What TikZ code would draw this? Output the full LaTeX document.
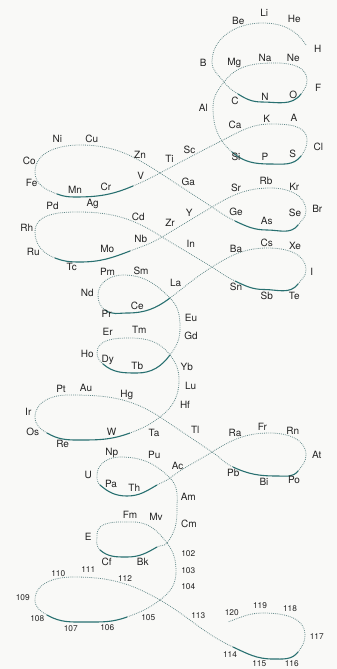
\documentclass[tikz,border=0pt]{standalone}
\usepackage{fontspec}
\setmainfont{TeX Gyre Heros}
\definecolor{dotc}{RGB}{100,138,138}
\definecolor{solc}{RGB}{40,112,112}
\definecolor{txt}{RGB}{35,35,35}
\definecolor{bg}{RGB}{249,249,247}
\begin{document}
\begin{tikzpicture}[x=1pt,y=1pt,
  dotl/.style={draw=dotc,line width=0.8pt,dash pattern=on 0.8pt off 1.1pt},
  sol/.style={draw=solc,line width=1.1pt},
  lab/.style={text=txt,font=\fontsize{10}{11}\selectfont,inner sep=0pt},
  num/.style={text=txt,font=\fontsize{8.3}{9}\selectfont,inner sep=0pt}]
\fill[bg] (0,0) rectangle (337,-669);
\useasboundingbox (0,0) rectangle (337,-669);
% ---- curve ----
\path[dotl] (306,-45) to[out=123,in=0] (262,-23) to[out=180,in=90] (212,-62) to[out=270,in=127] (224,-82) to[out=-53,in=148] (238,-94);
\path[sol] (238,-94) to[out=-32,in=180] (262,-102) to[out=0,in=233] (301,-94);
\path[dotl] (301,-94) to[out=53,in=270] (307,-80) to[out=90,in=0] (277,-63) to[out=180,in=53] (224,-82) to[out=233,in=90] (213,-107) to[out=270,in=139] (232,-152);
\path[sol] (232,-152) to[out=-41,in=180] (270,-164) to[out=0,in=233] (301,-156);
\path[dotl] (301,-156) to[out=53,in=270] (307,-140) to[out=90,in=0] (271,-124) to[out=180,in=27] (225,-139) to[out=207,in=28] (160,-173) to[out=208,in=23] (133,-186);
\path[sol] (133,-186) to[out=203,in=0] (75,-197) to[out=180,in=340] (57,-194);
\path[dotl] (57,-194) to[out=160,in=270] (35,-172) to[out=90,in=180] (80,-145) to[out=0,in=147] (160,-173) -- (212,-207) to[out=-33,in=155] (235,-221);
\path[sol] (235,-221) to[out=-25,in=180] (267,-230) to[out=0,in=233] (298,-225);
\path[dotl] (298,-225) to[out=53,in=270] (306,-211) to[out=90,in=0] (271,-188) to[out=180,in=31] (212,-207) -- (162,-237) to[out=211,in=21] (130,-251);
\path[sol] (130,-251) to[out=201,in=0] (80,-262) to[out=180,in=339] (55,-258);
\path[dotl] (55,-258) to[out=159,in=270] (35,-232) to[out=90,in=180] (78,-212) to[out=0,in=147] (162,-237) -- (212,-267) to[out=-33,in=155] (235,-281);
\path[sol] (235,-281) to[out=-25,in=180] (264,-289.5) to[out=0,in=233] (298,-284);
\path[dotl] (298,-284) to[out=53,in=270] (306,-270) to[out=90,in=0] (268,-248) to[out=180,in=32] (212,-267) to[out=212,in=37] (170,-298);
\path[sol] (170,-298) to[out=217,in=0] (127,-313) to[out=180,in=323] (105,-310);
\path[dotl] (105,-310) to[out=143,in=270] (98,-295) to[out=90,in=180] (123,-275) to[out=0,in=135] (170,-298) to[out=-45,in=90] (180,-328) to[out=270,in=53] (170,-355);
\path[sol] (170,-355) to[out=233,in=0] (137,-373) to[out=180,in=319] (103,-364);
\path[dotl] (103,-364) to[out=139,in=270] (97,-353) to[out=90,in=180] (130,-338) to[out=0,in=127] (170,-355) to[out=-53,in=90] (179,-380) to[out=270,in=37] (160,-417) to[out=217,in=20] (130,-433);
\path[sol] (130,-433) to[out=200,in=0] (77,-440) to[out=180,in=330] (47,-433);
\path[dotl] (47,-433) to[out=150,in=270] (35,-417) to[out=90,in=180] (67,-395) to[out=0,in=147] (160,-417) -- (212,-452) to[out=-33,in=155] (233,-467);
\path[sol] (233,-467) to[out=-25,in=180] (277,-476) to[out=0,in=233] (298,-471);
\path[dotl] (298,-471) to[out=53,in=270] (306,-455) to[out=90,in=0] (270,-433) to[out=180,in=32] (212,-452) to[out=212,in=37] (170,-478) to[out=217,in=30] (157,-485);
\path[sol] (157,-485) to[out=210,in=0] (127,-496) to[out=180,in=319] (100,-485);
\path[dotl] (100,-485) to[out=139,in=270] (97,-475) to[out=90,in=180] (120,-457) to[out=0,in=135] (170,-478) to[out=-45,in=90] (177,-510) to[out=270,in=53] (167,-543) to[out=233,in=30] (157,-547);
\path[sol] (157,-547) to[out=210,in=0] (127,-557) to[out=180,in=319] (100,-550);
\path[dotl] (100,-550) to[out=139,in=270] (97,-535) to[out=90,in=180] (133,-522) to[out=0,in=127] (167,-543) to[out=-53,in=90] (176,-572) to[out=270,in=37] (160,-600) to[out=217,in=20] (127,-617);
\path[sol] (127,-617) to[out=200,in=0] (87,-622) to[out=180,in=330] (47,-615);
\path[dotl] (47,-615) to[out=150,in=270] (35,-600) to[out=90,in=180] (73,-577) to[out=0,in=150] (160,-600) to[out=-30,in=155] (233,-647);
\path[sol] (233,-647) to[out=-25,in=180] (273,-659) to[out=0,in=233] (298,-652);
\path[dotl] (298,-652) to[out=53,in=270] (305,-635) to[out=90,in=0] (263,-613) to[out=180,in=20] (228,-622);
% ---- labels ----
\node[lab] (H)  at (317.7,-49) {H};
\node[lab] (He) at (294.3,-19.3) {He};
\node[lab] (Li) at (264.3,-13.3) {Li};
\node[lab] (Be) at (238.3,-20.7) {Be};
\node[lab] (B)  at (203.3,-62.7) {B};
\node[lab] (C)  at (235,-100.7) {C};
\node[lab] (N)  at (265,-96.7) {N};
\node[lab] (O)  at (293.3,-95) {O};
\node[lab] (F)  at (318.3,-88.3) {F};
\node[lab] (Ne) at (293.3,-58.3) {Ne};
\node[lab] (Na) at (265,-58.3) {Na};
\node[lab] (Mg) at (234.3,-63.3) {Mg};
\node[lab] (Al) at (203.3,-108.3) {Al};
\node[lab] (Si) at (236,-156.7) {Si};
\node[lab] (P)  at (265,-156.7) {P};
\node[lab] (S)  at (292.7,-154.3) {S};
\node[lab] (Cl) at (318.3,-146.7) {Cl};
\node[lab] (A)  at (294,-118.3) {A};
\node[lab] (K)  at (266.7,-119) {K};
\node[lab] (Ca) at (235,-125) {Ca};
\node[lab] (Sc) at (189.5,-149.5) {Sc};
\node[lab] (Ti) at (169.5,-159) {Ti};
\node[lab] (V)  at (140.7,-176) {V};
\node[lab] (Cr) at (106,-187.3) {Cr};
\node[lab] (Mn) at (75,-190) {Mn};
\node[lab] (Fe) at (31.7,-183.3) {Fe};
\node[lab] (Co) at (29.3,-161) {Co};
\node[lab] (Ni) at (57.3,-139.3) {Ni};
\node[lab] (Cu) at (91.7,-139.3) {Cu};
\node[lab] (Zn) at (140,-155) {Zn};
\node[lab] (Ga) at (188.3,-181.7) {Ga};
\node[lab] (Ge) at (236,-212.3) {Ge};
\node[lab] (As) at (266.7,-220.7) {As};
\node[lab] (Se) at (295,-213.3) {Se};
\node[lab] (Br) at (317.3,-209.3) {Br};
\node[lab] (Kr) at (294.3,-187.3) {Kr};
\node[lab] (Rb) at (266,-180.7) {Rb};
\node[lab] (Sr) at (236,-188.3) {Sr};
\node[lab] (Y)  at (189.3,-212.7) {Y};
\node[lab] (Zr) at (170,-222.7) {Zr};
\node[lab] (Nb) at (140.7,-239.3) {Nb};
\node[lab] (Mo) at (107.3,-249.3) {Mo};
\node[lab] (Tc) at (71.7,-266.7) {Tc};
\node[lab] (Ru) at (33.3,-251.7) {Ru};
\node[lab] (Rh) at (26.7,-228) {Rh};
\node[lab] (Pd) at (52.5,-206.3) {Pd};
\node[lab] (Ag) at (92.7,-204.3) {Ag};
\node[lab] (Cd) at (138.3,-217.3) {Cd};
\node[lab] (In) at (190.7,-244) {In};
\node[lab] (Sn) at (236,-286.7) {Sn};
\node[lab] (Sb) at (266.7,-296) {Sb};
\node[lab] (Te) at (294.3,-296) {Te};
\node[lab] (I)  at (311.7,-271.7) {I};
\node[lab] (Xe) at (295,-246) {Xe};
\node[lab] (Cs) at (266.7,-242.7) {Cs};
\node[lab] (Ba) at (236,-249) {Ba};
\node[lab] (La) at (175.7,-282.7) {La};
\node[lab] (Ce) at (137.3,-305.7) {Ce};
\node[lab] (Pr) at (106.7,-314.3) {Pr};
\node[lab] (Nd) at (87.3,-292.7) {Nd};
\node[lab] (Pm) at (107.5,-272) {Pm};
\node[lab] (Sm) at (141,-270.8) {Sm};
\node[lab] (Eu) at (191,-317.7) {Eu};
\node[lab] (Gd) at (191,-335.7) {Gd};
\node[lab] (Tb) at (137.3,-366) {Tb};
\node[lab] (Dy) at (107.7,-360) {Dy};
\node[lab] (Ho) at (87.3,-354.3) {Ho};
\node[lab] (Er) at (107.7,-331.7) {Er};
\node[lab] (Tm) at (139.3,-330) {Tm};
\node[lab] (Yb) at (186.7,-367.3) {Yb};
\node[lab] (Lu) at (190.7,-386) {Lu};
\node[lab] (Hf) at (185,-405) {Hf};
\node[lab] (Ta) at (154,-433.3) {Ta};
\node[lab] (W)  at (111.7,-431.7) {W};
\node[lab] (Re) at (62.7,-444.3) {Re};
\node[lab] (Os) at (32.7,-432.3) {Os};
\node[lab] (Ir) at (28.3,-412.3) {Ir};
\node[lab] (Pt) at (61,-389.3) {Pt};
\node[lab] (Au) at (86,-388.3) {Au};
\node[lab] (Hg) at (126.7,-395) {Hg};
\node[lab] (Tl) at (195.3,-429.5) {Tl};
\node[lab] (Pb) at (233.3,-473.3) {Pb};
\node[lab] (Bi) at (264,-481.5) {Bi};
\node[lab] (Po) at (294,-480) {Po};
\node[lab] (At) at (316.7,-455) {At};
\node[lab] (Rn) at (292.7,-431) {Rn};
\node[lab] (Fr) at (262.3,-427.3) {Fr};
\node[lab] (Ra) at (235,-433.3) {Ra};
\node[lab] (Ac) at (177.7,-466) {Ac};
\node[lab] (Th) at (134.3,-488.3) {Th};
\node[lab] (Pa) at (111,-484.3) {Pa};
\node[lab] (U)  at (88.3,-475) {U};
\node[lab] (Np) at (111.7,-452.7) {Np};
\node[lab] (Pu) at (154.3,-455) {Pu};
\node[lab] (Am) at (188.3,-497.3) {Am};
\node[lab] (Cm) at (189,-524) {Cm};
\node[lab] (Bk) at (142.7,-562.3) {Bk};
\node[lab] (Cf) at (106.7,-561.7) {Cf};
\node[lab] (E)  at (88.3,-537.3) {E};
\node[lab] (Fm) at (130,-515) {Fm};
\node[lab] (Mv) at (156,-517) {Mv};
\node[num] (n102) at (188.3,-553.3) {102};
\node[num] (n103) at (188.3,-570.7) {103};
\node[num] (n104) at (188.3,-586.7) {104};
\node[num] (n105) at (148.3,-617.7) {105};
\node[num] (n106) at (107.3,-627.3) {106};
\node[num] (n107) at (70.7,-629) {107};
\node[num] (n108) at (37.3,-618.3) {108};
\node[num] (n109) at (22.7,-597.3) {109};
\node[num] (n110) at (58.3,-574) {110};
\node[num] (n111) at (88.3,-569.3) {111};
\node[num] (n112) at (125,-579) {112};
\node[num] (n113) at (198.3,-616) {113};
\node[num] (n114) at (230,-654.3) {114};
\node[num] (n115) at (259.3,-663.3) {115};
\node[num] (n116) at (291.7,-663.3) {116};
\node[num] (n117) at (316.7,-636.7) {117};
\node[num] (n118) at (290,-608.7) {118};
\node[num] (n119) at (260,-605.3) {119};
\node[num] (n120) at (231.7,-612.3) {120};
\end{tikzpicture}
\end{document}
